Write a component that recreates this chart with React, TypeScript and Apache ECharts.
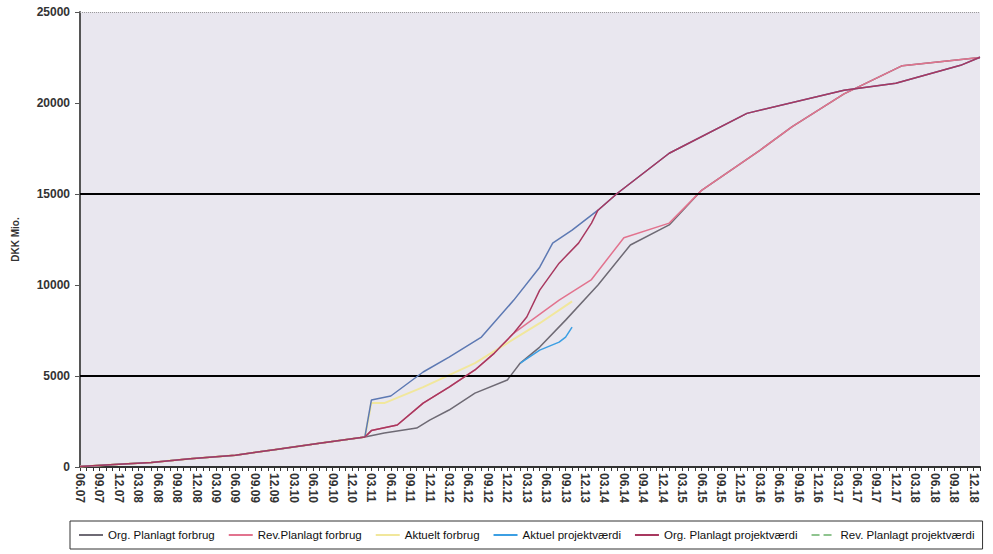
import React, { useEffect, useRef } from "react";
import * as echarts from "echarts";

// Monthly category axis, June 2007 to January 2019 (labels "MM.YY").
const START_YEAR = 7;
const START_MONTH = 6;
const MONTH_COUNT = 140;

const months: string[] = Array.from({ length: MONTH_COUNT }, (_, i) => {
  const m = ((START_MONTH - 1 + i) % 12) + 1;
  const y = START_YEAR + Math.floor((START_MONTH - 1 + i) / 12);
  return `${String(m).padStart(2, "0")}.${String(y).padStart(2, "0")}`;
});

const yTicks = [0, 5000, 10000, 15000, 20000, 25000];
const gridValues = [5000, 15000];

type Pt = [string, number];

// Common early spending, shared by every curve.
const baseline: Pt[] = [
  ["06.07", 30], ["12.07", 150], ["05.08", 250], ["11.08", 450],
  ["06.09", 650], ["12.09", 950], ["07.10", 1300], ["02.11", 1650],
];

const orgForbrug: Pt[] = [
  ["05.11", 1870], ["10.11", 2140], ["12.11", 2580], ["03.12", 3130],
  ["07.12", 4060], ["12.12", 4780], ["02.13", 5710], ["05.13", 6590],
  ["09.13", 8070], ["02.14", 10000], ["07.14", 12200], ["01.15", 13300],
  ["06.15", 15200], ["03.16", 17400], ["08.16", 18700], ["04.17", 20500],
  ["01.18", 22050], ["01.19", 22500],
];

const revForbrug: Pt[] = [
  ["03.11", 2000], ["07.11", 2310], ["11.11", 3510], ["03.12", 4390],
  ["07.12", 5330], ["10.12", 6260], ["01.13", 7360], ["08.13", 9170],
  ["01.14", 10300], ["06.14", 12600], ["01.15", 13400], ["06.15", 15200],
  ["03.16", 17400], ["08.16", 18700], ["04.17", 20500], ["01.18", 22050],
  ["01.19", 22500],
];

const aktueltForbrug: Pt[] = [
  ["03.11", 3510], ["05.11", 3510], ["11.11", 4390], ["07.12", 5710],
  ["12.12", 6810], ["05.13", 7900], ["10.13", 9100],
];

const aktuelProjektvaerdi: Pt[] = [
  ["02.13", 5710], ["05.13", 6420], ["08.13", 6860], ["09.13", 7140],
  ["10.13", 7690],
];

const orgProjektvaerdi: Pt[] = [
  ["03.11", 2000], ["07.11", 2310], ["11.11", 3510], ["03.12", 4390],
  ["07.12", 5330], ["10.12", 6260], ["01.13", 7360], ["03.13", 8240],
  ["05.13", 9720], ["08.13", 11200], ["11.13", 12300], ["01.14", 13400],
  ["02.14", 14110], ["05.14", 15040], ["01.15", 17240], ["01.16", 19430],
  ["04.17", 20700], ["12.17", 21080], ["10.18", 22070], ["01.19", 22510],
];

const revProjektvaerdi: Pt[] = [
  ["03.11", 3680], ["06.11", 3900], ["11.11", 5220], ["03.12", 6040],
  ["08.12", 7140], ["01.13", 9170], ["05.13", 10980], ["07.13", 12300],
  ["10.13", 13010], ["02.14", 14110], ["05.14", 15040], ["01.15", 17240],
  ["01.16", 19430], ["04.17", 20700], ["12.17", 21080], ["10.18", 22070],
  ["01.19", 22510],
];

const seriesNames = [
  "Org. Planlagt forbrug",
  "Rev.Planlagt forbrug",
  "Aktuelt forbrug",
  "Aktuel projektværdi",
  "Org. Planlagt projektværdi",
  "Rev. Planlagt projektværdi",
];

const FONT = "'Liberation Sans', Arial, sans-serif";

export default function App() {
  const ref = useRef<HTMLDivElement>(null);

  useEffect(() => {
    if (!ref.current) return;
    const chart = echarts.init(ref.current, undefined, { renderer: "svg" });

    const line = (
      name: string,
      pts: Pt[],
      color: string,
      width: number,
      z: number,
      withBase = true,
      extra: Record<string, unknown> = {}
    ) => ({
      name,
      type: "line",
      symbol: "none",
      z,
      data: withBase ? [...baseline, ...pts] : pts,
      lineStyle: { color, width },
      itemStyle: { color },
      emphasis: { disabled: true },
      ...extra,
    });

    chart.setOption({
      animation: false,
      backgroundColor: "#ffffff",
      textStyle: { fontFamily: FONT },
      grid: {
        left: 80,
        right: 13,
        top: 12,
        bottom: 87,
        show: true,
        backgroundColor: "#e9e7ef",
        borderWidth: 0,
      },
      legend: {
        left: 70,
        top: 521,
        padding: [8, 8],
        itemGap: 13,
        itemWidth: 24,
        itemHeight: 4,
        itemStyle: { opacity: 0 },
        borderColor: "#333",
        borderWidth: 1,
        textStyle: { fontSize: 11.5, color: "#111", fontFamily: FONT },
        data: [
          { name: seriesNames[0] },
          { name: seriesNames[1] },
          { name: seriesNames[2] },
          { name: seriesNames[3] },
          { name: seriesNames[4] },
          {
            name: seriesNames[5],
            lineStyle: { color: "#8fc48f", type: "dashed" },
          },
        ],
      },
      xAxis: {
        type: "category",
        data: months,
        boundaryGap: false,
        axisLine: { lineStyle: { color: "#333", width: 2 } },
        axisTick: { interval: 0, length: 4, lineStyle: { color: "#333" } },
        axisLabel: {
          interval: 2,
          rotate: -90,
          fontSize: 12,
          fontWeight: "bold",
          color: "#333",
          margin: 6,
          fontFamily: FONT,
        },
        splitLine: { show: false },
      },
      yAxis: {
        type: "value",
        min: yTicks[0],
        max: yTicks[yTicks.length - 1],
        interval: yTicks[1] - yTicks[0],
        name: "DKK Mio.",
        nameLocation: "middle",
        nameGap: 60,
        nameTextStyle: { fontSize: 10, fontWeight: "bold", color: "#333" },
        axisLine: { show: true, lineStyle: { color: "#555", width: 2 } },
        axisTick: { show: true, length: 5, lineStyle: { color: "#555" } },
        axisLabel: {
          fontSize: 12,
          fontWeight: "bold",
          color: "#333",
          margin: 10,
          formatter: (v: number) => String(v),
        },
        splitLine: { show: false },
      },
      series: [
        line(seriesNames[0], orgForbrug, "#6e6a74", 1.5, 2, true, {
          markLine: {
            silent: true,
            symbol: "none",
            label: { show: false },
            lineStyle: { color: "#000", width: 2, type: "solid" },
            data: [
              ...gridValues.map((v) => ({ yAxis: v })),
              {
                yAxis: yTicks[yTicks.length - 1],
                lineStyle: { color: "#9a9a9a", width: 1, type: "dotted" },
              },
            ],
          },
        }),
        line(seriesNames[1], revForbrug, "#e2738e", 1.5, 3),
        line(seriesNames[2], aktueltForbrug, "#f1e79c", 2, 4),
        line(seriesNames[3], aktuelProjektvaerdi, "#3c9fe3", 1.5, 5, false),
        line(seriesNames[5], revProjektvaerdi, "#5d79b3", 1.5, 6),
        line(seriesNames[4], orgProjektvaerdi, "#a8385f", 1.5, 7),
      ],
    });

    return () => chart.dispose();
  }, []);

  return (
    <div
      ref={ref}
      style={{ position: "fixed", left: 0, top: 0, width: 993, height: 554 }}
    />
  );
}
